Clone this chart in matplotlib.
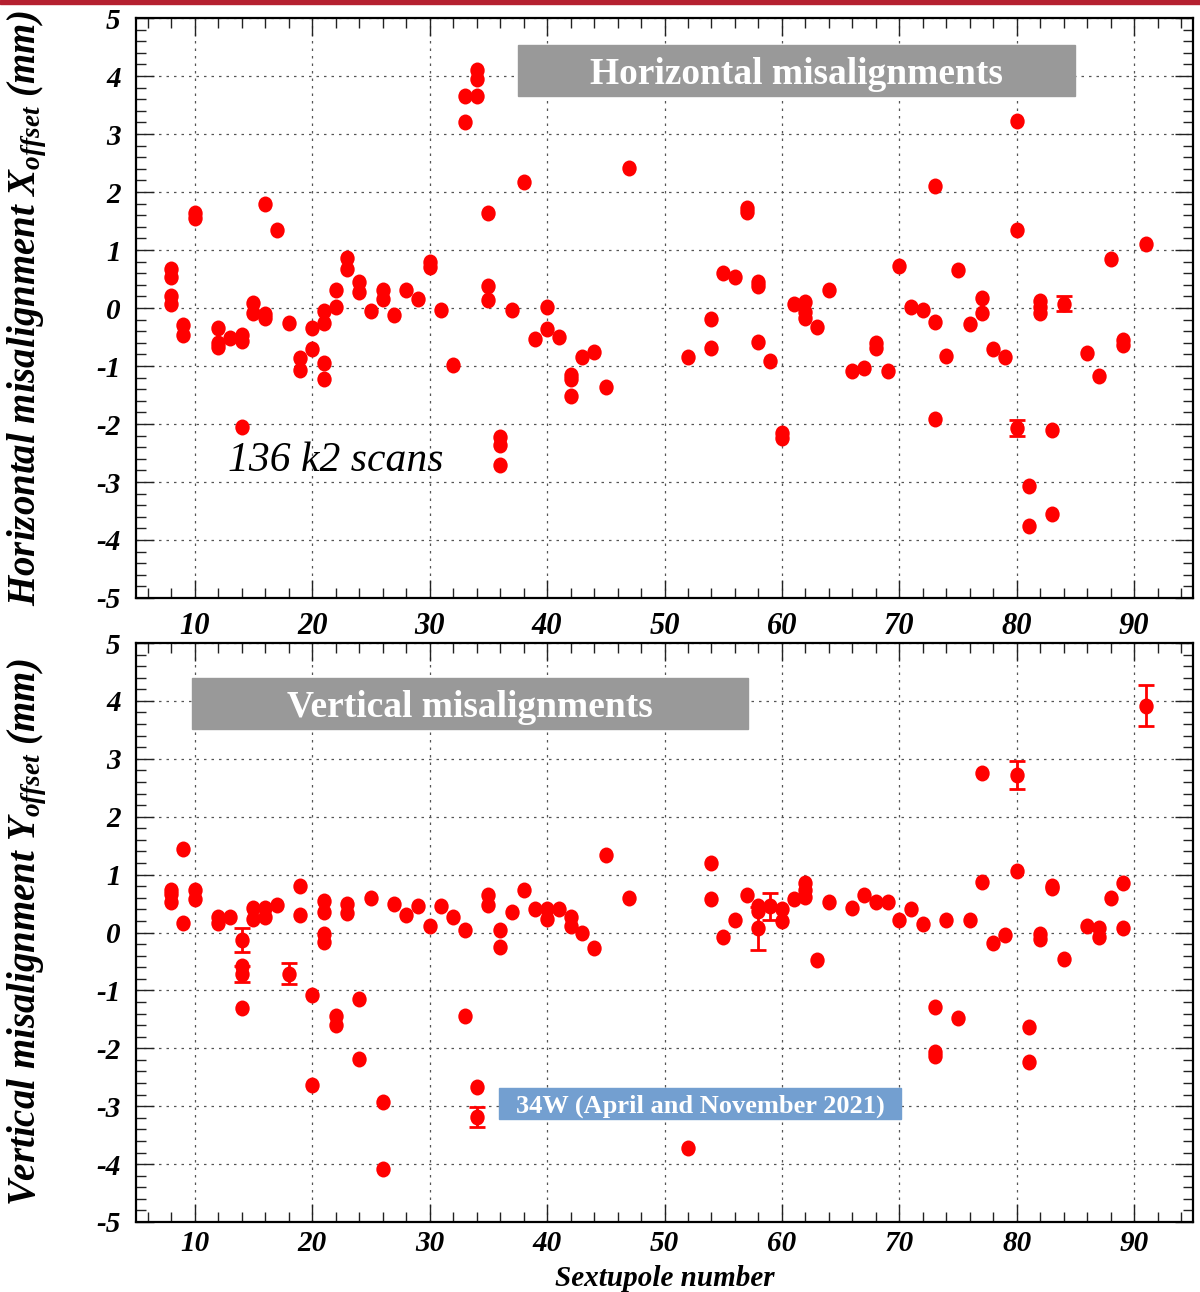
"""
Sextupole misalignments from k2 scans: horizontal and vertical offsets.
"""
import numpy as np
import matplotlib
matplotlib.use('Agg')
import matplotlib.pyplot as plt
from matplotlib.path import Path
from matplotlib.patches import Rectangle

# horizontal offsets X_offset (mm) per sextupole number
h_num = [8, 8, 8, 8, 9, 9, 10, 10, 12, 12, 12, 13, 14, 14, 14, 15, 15,
         16, 16, 16, 17, 18, 19, 19, 20, 20, 21, 21, 21, 21, 22, 22, 23, 23,
         24, 24, 25, 26, 26, 27, 28, 29, 30, 30, 31, 32, 33, 33, 34, 34, 34,
         35, 35, 35, 36, 36, 36, 37, 38, 39, 40, 40, 41, 42, 42, 42, 43, 44,
         45, 47, 52, 54, 54, 55, 56, 57, 57, 58, 58, 58, 59, 60, 60, 61,
         62, 62, 62, 63, 64, 66, 67, 68, 68, 69, 70, 71, 72, 73, 73, 73,
         74, 75, 76, 77, 77, 78, 79, 80, 80, 81, 81, 82, 82, 82, 83, 83,
         86, 87, 88, 89, 89, 91]
h_off = [0.67, 0.53, 0.20, 0.07, -0.29, -0.46, 1.63, 1.55, -0.35, -0.60,
         -0.67, -0.52, -0.47, -0.57, -2.05, 0.08, -0.09, 1.79, -0.10, -0.17,
         1.34, -0.25, -0.86, -1.07, -0.35, -0.71, -0.05, -0.25, -0.95, -1.23,
         0.31, 0.02, 0.86, 0.67, 0.45, 0.28, -0.05, 0.31, 0.16, -0.12, 0.31,
         0.16, 0.80, 0.71, -0.03, -0.98, 3.66, 3.20, 4.10, 3.95, 3.66, 1.64,
         0.38, 0.14, -2.22, -2.36, -2.70, -0.03, 2.17, -0.53, 0.01, -0.37,
         -0.50, -1.15, -1.22, -1.52, -0.84, -0.76, -1.36, 2.41, -0.85, -0.19,
         -0.69, 0.61, 0.54, 1.72, 1.66, 0.45, 0.38, -0.58, -0.91, -2.16,
         -2.24, 0.07, 0.10, -0.07, -0.17, -0.33, 0.31, -1.09, -1.03, -0.60,
         -0.69, -1.08, 0.73, 0.02, -0.04, 2.10, -0.24, -1.92, -0.82, 0.66,
         -0.28, 0.17, -0.09, -0.70, -0.85, 3.22, 1.34, -3.07, -3.76, 0.12,
         0.02, -0.09, -2.10, -3.55, -0.78, -1.17, 0.84, -0.55, -0.63, 1.10]
h_err_num = [80, 84]
h_err_off = [-2.07, 0.07]
h_err = [0.14, 0.13]

# vertical offsets Y_offset (mm) per sextupole number
v_num = [8, 8, 8, 9, 9, 10, 10, 12, 12, 13, 14, 14, 15, 15, 16, 16, 17,
         19, 19, 20, 20, 21, 21, 21, 21, 22, 22, 23, 23, 24, 24, 25, 26, 26,
         27, 28, 29, 30, 31, 32, 33, 33, 34, 35, 35, 36, 36, 37, 38, 39, 40,
         40, 41, 42, 42, 43, 44, 45, 47, 52, 54, 54, 55, 56, 57, 58, 58, 60,
         60, 61, 62, 62, 62, 63, 64, 66, 67, 68, 69, 70, 71, 72, 73, 73, 73,
         74, 75, 76, 77, 77, 78, 79, 80, 81, 81, 82, 82, 83, 83, 84, 86, 87,
         87, 88, 89, 89]
v_off = [0.74, 0.66, 0.53, 1.45, 0.16, 0.74, 0.57, 0.27, 0.17, 0.27, -0.57,
         -1.31, 0.43, 0.23, 0.43, 0.27, 0.48, 0.81, 0.31, -1.08, -2.63, 0.55,
         0.35, -0.03, -0.16, -1.45, -1.60, 0.50, 0.33, -1.14, -2.19, 0.59,
         -2.93, -4.09, 0.50, 0.31, 0.45, 0.12, 0.45, 0.27, 0.04, -1.45, -2.66,
         0.65, 0.48, 0.04, -0.25, 0.36, 0.73, 0.41, 0.40, 0.24, 0.41, 0.27,
         0.12, 0.00, -0.26, 1.33, 0.60, -3.72, 1.20, 0.57, -0.07, 0.22, 0.64,
         0.45, 0.37, 0.40, 0.19, 0.57, 0.86, 0.74, 0.62, -0.47, 0.52, 0.43,
         0.64, 0.52, 0.52, 0.21, 0.40, 0.14, -1.29, -2.07, -2.14, 0.22, -1.48,
         0.21, 2.76, 0.88, -0.18, -0.05, 1.07, -1.64, -2.24, -0.02, -0.12,
         0.80, 0.77, -0.45, 0.11, 0.07, -0.08, 0.60, 0.85, 0.07]
v_err_num = [14, 14, 18, 34, 58, 59, 80, 91]
v_err_off = [-0.13, -0.72, -0.71, -3.19, 0.07, 0.45, 2.72, 3.92]
v_err = [0.20, 0.14, 0.18, 0.17, 0.37, 0.23, 0.25, 0.36]

plt.rcParams['font.family'] = ['Liberation Serif', 'DejaVu Serif']
plt.rcParams['mathtext.default'] = 'regular'
plt.rcParams['axes.unicode_minus'] = False

W, H = 1200, 1292
fig = plt.figure(figsize=(W / 100, H / 100), dpi=100)
fig.patches.append(Rectangle((0, 1 - 4 / H), 1, 4 / H, transform=fig.transFigure,
                             color='#b52030', zorder=0))

circ = Path.unit_circle()
dot = Path(circ.vertices * [0.9, 1.0], circ.codes)


def panel(rect, num, off, e_num, e_off, e_err, xsize=22, xpad=10):
    ax = fig.add_axes(rect)
    ax.plot(num, off, ls='none', marker=dot, ms=11.5, mfc='red', mec='red',
            mew=0, zorder=3)
    ax.errorbar(e_num, e_off, yerr=e_err, fmt='none', ecolor='red',
                elinewidth=2, capsize=6, capthick=2, zorder=3)
    ax.plot(e_num, e_off, ls='none', marker=dot, ms=11.5, mfc='red',
            mec='red', mew=0, zorder=4)
    ax.set_xlim(5, 95)
    ax.set_ylim(-5, 5)
    ax.set_xticks(np.arange(10, 91, 10))
    ax.set_xticks(np.arange(6, 95, 2), minor=True)
    ax.set_yticks(np.arange(-5, 6, 1))
    ax.set_yticks(np.arange(-5, 5.01, 0.2), minor=True)
    ax.tick_params(which='both', direction='in', top=True, right=True,
                   width=1, color='#222222')
    ax.tick_params(which='major', length=13)
    ax.tick_params(which='minor', length=7)
    ax.tick_params(axis='y', which='major', labelsize=21, pad=11)
    ax.tick_params(axis='x', which='major', labelsize=xsize, pad=xpad)
    for lab in ax.get_xticklabels() + ax.get_yticklabels():
        lab.set_fontweight('bold')
        lab.set_fontstyle('italic')
    ax.grid(True, which='major', ls=(0, (2, 4)), color='#555555', lw=0.9)
    for sp in ax.spines.values():
        sp.set_linewidth(1.6)
    return ax


ax1 = panel([136 / W, 1 - 598 / H, 1057 / W, 580 / H],
            h_num, h_off, h_err_num, h_err_off, h_err)
ax2 = panel([136 / W, 1 - 1222 / H, 1057 / W, 579 / H],
            v_num, v_off, v_err_num, v_err_off, v_err, xsize=21, xpad=6)

# labelled boxes
ax1.add_patch(Rectangle((0.3614, 0.8655), 0.527, 0.0879, transform=ax1.transAxes,
                        color='#999999', zorder=5))
ax1.text(0.625, 0.9095, 'Horizontal misalignments', transform=ax1.transAxes,
         ha='center', va='center_baseline', color='white', fontsize=27,
         fontweight='bold', zorder=6)
ax1.text(0.087, 0.219, '136 k2 scans', transform=ax1.transAxes, ha='left',
         va='baseline', fontsize=30, fontstyle='italic', zorder=6)

ax2.add_patch(Rectangle((0.053, 0.8515), 0.526, 0.0881, transform=ax2.transAxes,
                        color='#999999', zorder=5))
ax2.text(0.316, 0.8955, 'Vertical misalignments', transform=ax2.transAxes,
         ha='center', va='center_baseline', color='white', fontsize=27,
         fontweight='bold', zorder=6)
ax2.add_patch(Rectangle((0.3434, 0.1779), 0.3803, 0.0535, transform=ax2.transAxes,
                        color='#739fd0', zorder=5))
ax2.text(0.5336, 0.2047, '34W (April and November 2021)', transform=ax2.transAxes,
         ha='center', va='center_baseline', color='white', fontsize=19,
         fontweight='bold', zorder=6)

fig.text(27 / W, 1 - 308 / H, 'Horizontal misalignment X$_{offset}$ (mm)',
         rotation=90, ha='center', va='center', fontsize=28,
         fontweight='bold', fontstyle='italic')
fig.text(27 / W, 1 - 932 / H, 'Vertical misalignment Y$_{offset}$ (mm)',
         rotation=90, ha='center', va='center', fontsize=28,
         fontweight='bold', fontstyle='italic')
fig.text(665 / W, 6.5 / H, 'Sextupole number', ha='center', va='baseline',
         fontsize=21, fontweight='bold', fontstyle='italic')

fig.savefig('out.png', dpi=100, facecolor='white')
